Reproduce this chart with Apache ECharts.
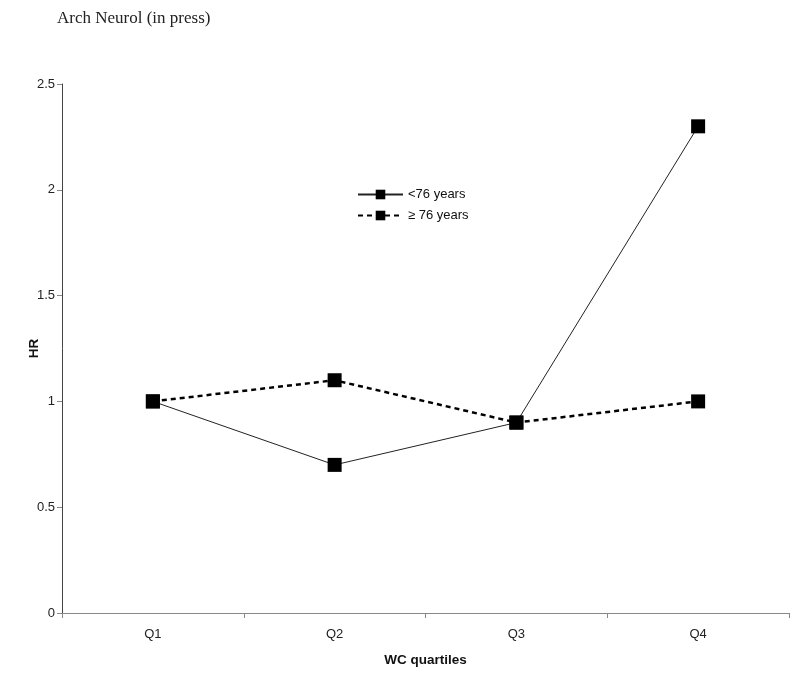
<!DOCTYPE html>
<html><head><meta charset="utf-8">
<script src="https://cdn.jsdelivr.net/npm/echarts@6/dist/echarts.min.js"></script>
<style>html,body{margin:0;padding:0;background:#fff}#c{width:800px;height:680px}</style>
</head><body><div id="c"></div>
<script>
var categories = ['Q1','Q2','Q3','Q4'];
var seriesNames = ['<76 years','\u2265 76 years'];
var under76 = [1, 0.7, 0.9, 2.3];
var over76 = [1, 1.1, 0.9, 1.0];
var titleText = 'Arch Neurol (in press)';
var yName = 'HR';
var xName = 'WC quartiles';

var chart = echarts.init(document.getElementById('c'));
chart.setOption({
  animation: false,
  backgroundColor: '#fff',
  title: {text: titleText, left: 57, top: 10, padding: 0, textStyle: {fontFamily: 'Liberation Serif', fontWeight: 'normal', fontSize: 17, color: '#222'}},
  grid: {left: 62, right: 11, top: 84, bottom: 67},
  legend: {
    left: 357, top: 188, padding: 0, orient: 'vertical', itemGap: 8, itemWidth: 45, itemHeight: 12,
    textStyle: {fontFamily: 'Liberation Sans', fontSize: 13, color: '#111'},
    data: seriesNames
  },
  xAxis: {
    type: 'category', data: categories, boundaryGap: true,
    name: xName, nameLocation: 'middle', nameGap: 40,
    nameTextStyle: {fontFamily: 'Liberation Sans', fontWeight: 'bold', fontSize: 13.5, color: '#111'},
    axisLine: {lineStyle: {color: '#888', width: 1}},
    axisTick: {show: true, length: 5, lineStyle: {color: '#888'}},
    axisLabel: {fontFamily: 'Liberation Sans', fontSize: 13, color: '#222', margin: 15}
  },
  yAxis: {
    type: 'value', min: 0, max: 2.5, interval: 0.5,
    name: yName, nameLocation: 'middle', nameGap: 21, nameRotate: 90, nameMoveOverlap: false,
    nameTextStyle: {fontFamily: 'Liberation Sans', fontWeight: 'bold', fontSize: 13.5, color: '#111'},
    axisLine: {show: true, lineStyle: {color: '#444', width: 1}},
    axisTick: {show: true, length: 5, lineStyle: {color: '#888'}},
    splitLine: {show: false},
    axisLabel: {fontFamily: 'Liberation Sans', fontSize: 13, color: '#222', margin: 7}
  },
  series: [
    {name: seriesNames[0], type: 'line', data: under76, symbol: 'rect', symbolSize: 14,
     itemStyle: {color: '#000'}, lineStyle: {color: '#222', width: 1, type: 'solid'}},
    {name: seriesNames[1], type: 'line', data: over76, symbol: 'rect', symbolSize: 14,
     itemStyle: {color: '#000'}, lineStyle: {color: '#000', width: 2.5, type: [5, 4]}}
  ]
});
</script></body></html>
